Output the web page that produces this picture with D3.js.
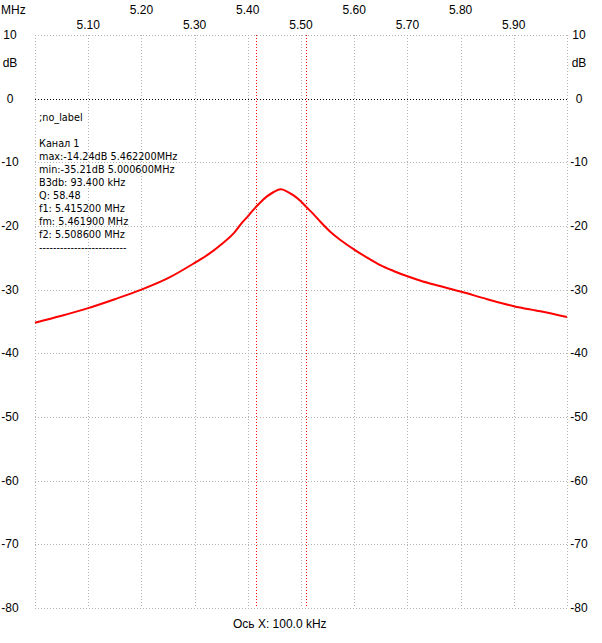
<!DOCTYPE html>
<html>
<head>
<meta charset="utf-8">
<script src="https://cdn.jsdelivr.net/npm/d3@7"></script>
<style>
  body { margin: 0; background: #fff; }
  svg { display: block; }
  text { font-family: "Liberation Sans", Arial, sans-serif; fill: #000; }
</style>
</head>
<body>
<svg id="chart" width="602" height="643"></svg>
<script>
var freqs = [5.00, 5.05, 5.10, 5.15, 5.20, 5.25, 5.30, 5.325, 5.35, 5.375,
             5.39, 5.40, 5.41, 5.4235, 5.436, 5.448, 5.462, 5.473, 5.486, 5.498,
             5.511, 5.523, 5.536, 5.555, 5.574, 5.60, 5.625, 5.65, 5.675, 5.70,
             5.725, 5.75, 5.80, 5.85, 5.90, 5.95, 6.00];
var levels = [-35.2, -34.1, -32.9, -31.5, -30.0, -28.2, -25.8, -24.5, -22.9, -21.0,
              -19.4, -18.5, -17.5, -16.3, -15.35, -14.7, -14.24, -14.55, -15.2, -16.0,
              -17.1, -18.1, -19.3, -20.9, -22.2, -23.7, -25.0, -26.2, -27.1, -27.9,
              -28.6, -29.2, -30.3, -31.5, -32.6, -33.4, -34.3];

var xTicks = [5.10, 5.20, 5.30, 5.40, 5.50, 5.60, 5.70, 5.80, 5.90];
var yTicks = [10, 0, -10, -20, -30, -40, -50, -60, -70, -80];
var markers = [5.4152, 5.5086];
var infoLines = [";no_label", "", "Канал 1", "max:-14.24dB 5.462200MHz",
                 "min:-35.21dB 5.000600MHz", "B3db: 93.400 kHz", "Q: 58.48",
                 "f1: 5.415200 MHz", "fm: 5.461900 MHz", "f2: 5.508600 MHz",
                 "-------------------------"];

var svg = d3.select("#chart");
var plotLeft = 35, plotRight = 567, plotTop = 35, plotBottom = 608;

var x = d3.scaleLinear().domain([5.0, 6.0]).range([plotLeft, plotRight]);
var y = d3.scaleLinear().domain([-80, 10]).range([plotBottom, plotTop]);

// vertical grid
svg.append("g").selectAll("line")
    .data([5.0].concat(xTicks).concat([6.0]))
    .enter().append("line")
    .attr("x1", function (d) { return Math.round(x(d)) + 0.5; })
    .attr("x2", function (d) { return Math.round(x(d)) + 0.5; })
    .attr("y1", plotTop).attr("y2", plotBottom)
    .style("stroke", "#b4b4b4")
    .style("stroke-dasharray", "1,2");

// horizontal grid, 0 dB line in black
svg.append("g").selectAll("line")
    .data(yTicks)
    .enter().append("line")
    .attr("x1", plotLeft).attr("x2", plotRight)
    .attr("y1", function (d) { return Math.round(y(d)) + 0.5; })
    .attr("y2", function (d) { return Math.round(y(d)) + 0.5; })
    .style("stroke", function (d) { return d == 0 ? "#000" : "#b4b4b4"; })
    .style("stroke-dasharray", "1,2");

// f1 / f2 markers
svg.append("g").selectAll("line")
    .data(markers)
    .enter().append("line")
    .attr("x1", function (d) { return Math.round(x(d)) + 0.5; })
    .attr("x2", function (d) { return Math.round(x(d)) + 0.5; })
    .attr("y1", plotTop).attr("y2", plotBottom)
    .style("stroke", "#ff0000")
    .style("stroke-dasharray", "1,2");

// top frequency labels, alternating rows
svg.append("g").selectAll("text")
    .data(xTicks)
    .enter().append("text")
    .attr("x", function (d) { return x(d); })
    .attr("y", function (d, i) { return i % 2 == 0 ? 29 : 14; })
    .attr("text-anchor", "middle")
    .style("font-size", "12px")
    .text(function (d) { return d.toFixed(2); });

svg.append("text").attr("x", 1).attr("y", 14)
    .style("font-size", "12px").text("MHz");

// dB labels on both sides
[10, 579].forEach(function (cx) {
    svg.append("g").selectAll("text")
        .data(yTicks)
        .enter().append("text")
        .attr("x", cx)
        .attr("y", function (d) { return y(d) + 4; })
        .attr("text-anchor", "middle")
        .style("font-size", "12px")
        .text(function (d) { return d; });
    svg.append("text").attr("x", cx).attr("y", 67)
        .attr("text-anchor", "middle")
        .style("font-size", "12px").text("dB");
});

// response curve
var line = d3.line()
    .x(function (d) { return x(d[0]); })
    .y(function (d) { return y(d[1]); })
    .curve(d3.curveMonotoneX);

svg.append("path")
    .datum(d3.zip(freqs, levels))
    .attr("d", line)
    .style("fill", "none")
    .style("stroke", "#ff0000")
    .style("stroke-width", 2);

// info block
svg.append("g").selectAll("text")
    .data(infoLines)
    .enter().append("text")
    .attr("x", 39)
    .attr("y", function (d, i) { return 121 + i * 13; })
    .style("font-family", "'DejaVu Sans', Verdana, sans-serif")
    .style("font-size", "9.7px")
    .text(function (d) { return d; });

svg.append("text").attr("x", 233).attr("y", 628)
    .style("font-size", "12px").text("Ось X: 100.0 kHz");
</script>
</body>
</html>
